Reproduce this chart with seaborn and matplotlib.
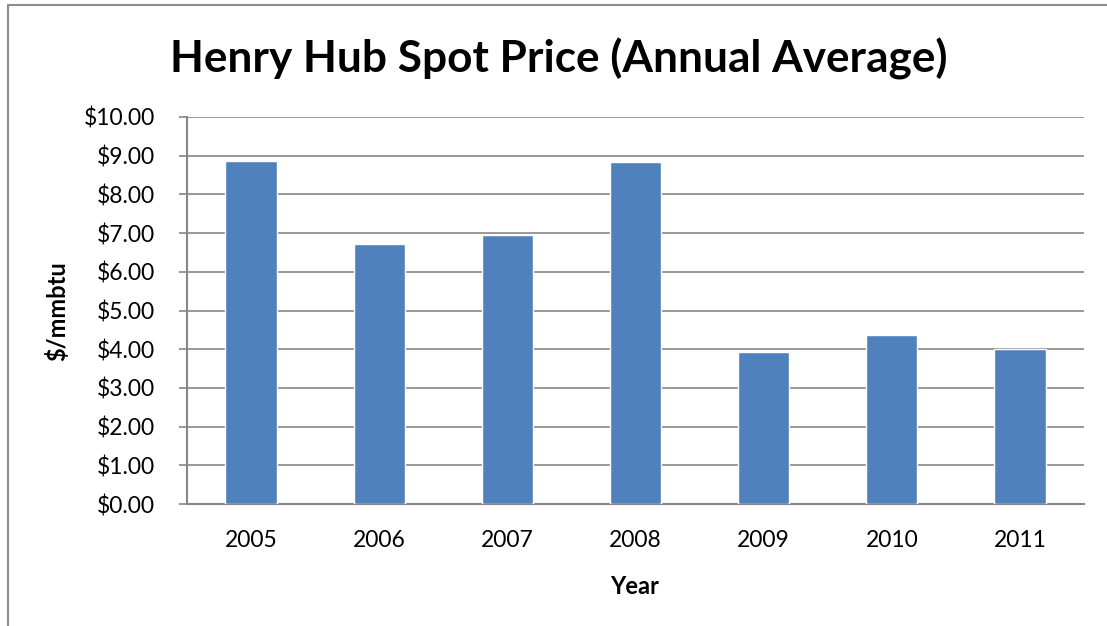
import matplotlib
matplotlib.use('Agg')
import matplotlib.pyplot as plt
import seaborn as sns
import pandas as pd
from matplotlib.lines import Line2D
from matplotlib.ticker import FuncFormatter

years = ['2005', '2006', '2007', '2008', '2009', '2010', '2011']
prices = [8.87, 6.73, 6.94, 8.85, 3.94, 4.37, 4.00]
yticks = [0, 1, 2, 3, 4, 5, 6, 7, 8, 9, 10]

df = pd.DataFrame({'year': years, 'price': prices})

sns.set_style('white')
plt.rcParams['font.family'] = ['Lato', 'DejaVu Sans']
plt.rcParams['text.color'] = 'black'
plt.rcParams['xtick.labelcolor'] = 'black'
plt.rcParams['ytick.labelcolor'] = 'black'

W, H = 1107, 626
fig = plt.figure(figsize=(W / 100, H / 100), dpi=100)
ax = fig.add_axes([187 / W, 1 - 504 / H, (1084 - 187) / W, (504 - 117) / H])

sns.barplot(data=df, x='year', y='price', color='#4F81BD', saturation=1,
            width=0.4, ax=ax, zorder=3)

ax.set_ylim(0, 10)
ax.set_xlim(-0.5, 6.5)
ax.set_yticks(yticks)
ax.yaxis.set_major_formatter(FuncFormatter(lambda v, p: f'${v:.2f}'))
ax.yaxis.grid(True, color='#868686', linewidth=1.2, zorder=0)
ax.set_axisbelow(True)
for s in ['top', 'right']:
    ax.spines[s].set_visible(False)
for s in ['left', 'bottom']:
    ax.spines[s].set_color('#868686')
    ax.spines[s].set_linewidth(1.5)
ax.tick_params(axis='y', left=True, length=6, width=1.2, color='#868686',
               pad=17, labelsize=16.5, labelcolor='black')
ax.tick_params(axis='x', bottom=False, pad=15, labelsize=16.5, labelcolor='black')
ax.set_xlabel('')
ax.set_ylabel('')

fig.text(559 / W, 1 - 72 / H, 'Henry Hub Spot Price (Annual Average)',
         ha='center', va='baseline', fontsize=31.8, fontweight='bold', color='black')
fig.text(57 / W, 1 - 311 / H, '$/mmbtu', rotation=90, ha='center',
         va='center', fontsize=17, fontweight='bold', color='black')
fig.text(635 / W, 1 - 594 / H, 'Year', ha='center', va='baseline',
         fontsize=17, fontweight='bold', color='black')

# outer chart frame
fig.add_artist(Line2D([8 / W, 8 / W], [0, 1 - 5 / H], color='#8c8c8c', lw=1.5))
fig.add_artist(Line2D([8 / W, 1], [1 - 5 / H, 1 - 5 / H], color='#8c8c8c', lw=1.5))

fig.savefig('out.png', dpi=100)
